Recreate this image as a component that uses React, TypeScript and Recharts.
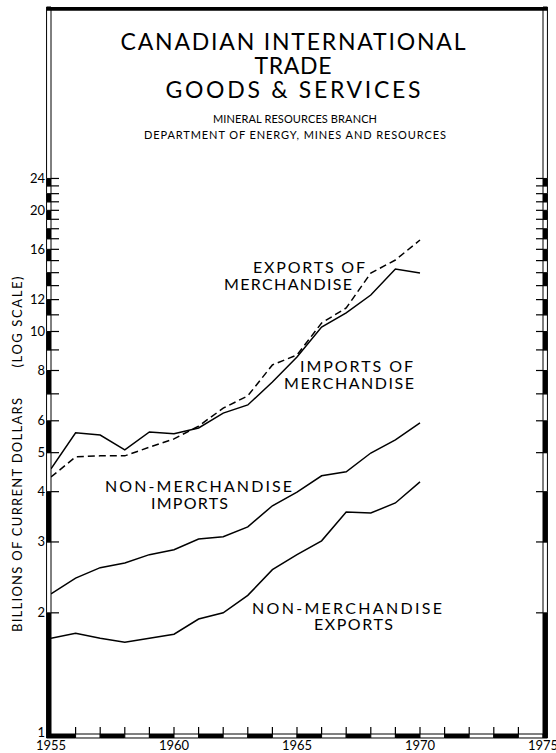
import { LineChart, Line, XAxis, YAxis, ReferenceArea } from 'recharts';

// values, billions of current dollars
const years = [1955, 1956, 1957, 1958, 1959, 1960, 1961, 1962, 1963, 1964, 1965, 1966, 1967, 1968, 1969, 1970];
const merchExports = [4.35, 4.88, 4.91, 4.91, 5.16, 5.41, 5.82, 6.45, 6.92, 8.26, 8.74, 10.5, 11.44, 13.97, 15.05, 16.88];
const merchImports = [4.56, 5.6, 5.53, 5.08, 5.63, 5.57, 5.76, 6.27, 6.57, 7.49, 8.64, 10.26, 11.12, 12.32, 14.3, 13.97];
const nonMerchImports = [2.23, 2.44, 2.59, 2.66, 2.79, 2.87, 3.05, 3.09, 3.27, 3.69, 3.99, 4.38, 4.48, 4.99, 5.38, 5.93];
const nonMerchExports = [1.73, 1.78, 1.73, 1.69, 1.73, 1.77, 1.93, 2.0, 2.21, 2.56, 2.79, 3.02, 3.56, 3.54, 3.75, 4.23];

const yTicks = [1, 2, 3, 4, 5, 6, 7, 8, 9, 10, 11, 12, 13, 14, 15, 16, 17, 18, 19, 20, 21, 22, 23, 24];
const yLabels = [1, 2, 3, 4, 5, 6, 8, 10, 12, 16, 20, 24];
const xTicks = [1955, 1956, 1957, 1958, 1959, 1960, 1961, 1962, 1963, 1964, 1965, 1966, 1967, 1968, 1969, 1970, 1971, 1972, 1973, 1974, 1975];
const xLabels = [1955, 1960, 1965, 1970, 1975];

const data = years.map((yr, i) => ({
  yr,
  mx: merchExports[i],
  mi: merchImports[i],
  nmi: nonMerchImports[i],
  nme: nonMerchExports[i],
}));

const FONT = 'Lato, "DejaVu Sans", sans-serif';
const Y_MIN = 1;
const Y_MAX = 64;
const BAR_LO = 0.9774; // bottom scale bar, ~4px below y=1
const LEFT_X0 = 1954.82;
const RIGHT_X1 = 1975.18;

function LeftTick(props: any) {
  const { y, payload } = props;
  const v = payload.value;
  return (
    <g>
      {v > 1 && <line x1={51} x2={59} y1={y} y2={y} stroke="#000" strokeWidth={1.2} />}
      {yLabels.includes(v) && (
        <text x={45} y={y} dy={v === 1 ? 3 : 4.5} textAnchor="end" fontSize={13} fontFamily={FONT} fill="#000">{v}</text>
      )}
    </g>
  );
}

function RightTick(props: any) {
  const { y, payload } = props;
  if (payload.value <= 1) return null;
  return <line x1={536} x2={543} y1={y} y2={y} stroke="#000" strokeWidth={1.2} />;
}

function BottomTick(props: any) {
  const { x, payload } = props;
  const v = payload.value;
  return (
    <g>
      {v > 1955 && v < 1975 && <line x1={x} x2={x} y1={734} y2={727} stroke="#000" strokeWidth={1.2} />}
      {xLabels.includes(v) && (
        <text x={x} y={750} textAnchor="middle" fontSize={13} fontFamily={FONT} fill="#000">{v}</text>
      )}
    </g>
  );
}

const leftSegs = yTicks.slice(0, -1).map((k) => ({ y1: k, y2: k + 1, black: k % 2 === 1 }));
const bottomSegs = xTicks.slice(0, -1).map((k) => ({ x1: k, x2: k + 1, black: (k - 1955) % 2 === 0 }));

export default function App() {
  return (
    <div style={{ position: 'absolute', left: 0, top: 0, width: 556, height: 753, background: '#fff' }}>
      <LineChart width={556} height={753} data={data} margin={{ top: 7, right: 0, left: 0, bottom: 0 }}>
        <XAxis
          dataKey="yr"
          type="number"
          domain={[1955, 1975]}
          ticks={xTicks}
          allowDataOverflow
          axisLine={false}
          tickLine={false}
          height={19}
          tick={<BottomTick />}
          interval={0}
        />
        <YAxis
          scale="log"
          type="number"
          domain={[Y_MIN, Y_MAX]}
          ticks={yTicks}
          allowDataOverflow
          axisLine={false}
          tickLine={false}
          width={51}
          tick={<LeftTick />}
          interval={0}
        />
        <YAxis
          yAxisId="r"
          orientation="right"
          scale="log"
          type="number"
          domain={[Y_MIN, Y_MAX]}
          ticks={yTicks}
          allowDataOverflow
          axisLine={false}
          tickLine={false}
          width={13}
          tick={<RightTick />}
          interval={0}
        />

        {/* alternating scale bars round the frame */}
        {leftSegs.map((s) => (
          <ReferenceArea key={`l${s.y1}`} x1={LEFT_X0} x2={1955} y1={s.y1} y2={s.y2} ifOverflow="visible"
            fill={s.black ? '#000' : '#fff'} fillOpacity={1} stroke="#000" strokeWidth={1} />
        ))}
        {leftSegs.map((s) => (
          <ReferenceArea key={`r${s.y1}`} x1={1975} x2={RIGHT_X1} y1={s.y1} y2={s.y2} ifOverflow="visible"
            fill={s.black ? '#000' : '#fff'} fillOpacity={1} stroke="#000" strokeWidth={1} />
        ))}
        <ReferenceArea x1={LEFT_X0} x2={1955} y1={24} y2={Y_MAX} ifOverflow="visible" fill="#fff" fillOpacity={1} stroke="#000" strokeWidth={1} />
        <ReferenceArea x1={1975} x2={RIGHT_X1} y1={24} y2={Y_MAX} ifOverflow="visible" fill="#fff" fillOpacity={1} stroke="#000" strokeWidth={1} />
        {bottomSegs.map((s) => (
          <ReferenceArea key={`b${s.x1}`} x1={s.x1} x2={s.x2} y1={BAR_LO} y2={1} ifOverflow="visible"
            fill={s.black ? '#000' : '#fff'} fillOpacity={1} stroke="#000" strokeWidth={1} />
        ))}
        <ReferenceArea x1={LEFT_X0} x2={1955} y1={BAR_LO} y2={1} ifOverflow="visible" fill="#000" fillOpacity={1} stroke="#000" />
        <ReferenceArea x1={1975} x2={RIGHT_X1} y1={BAR_LO} y2={1} ifOverflow="visible" fill="#000" fillOpacity={1} stroke="#000" />
        <ReferenceArea x1={LEFT_X0} x2={RIGHT_X1} y1={62.6} y2={Y_MAX} ifOverflow="visible" fill="#000" fillOpacity={1} stroke="none" />

        <Line dataKey="mx" stroke="#000" strokeWidth={1.5} strokeDasharray="7 4" dot={false} isAnimationActive={false} />
        <Line dataKey="mi" stroke="#000" strokeWidth={1.5} dot={false} isAnimationActive={false} />
        <Line dataKey="nmi" stroke="#000" strokeWidth={1.5} dot={false} isAnimationActive={false} />
        <Line dataKey="nme" stroke="#000" strokeWidth={1.5} dot={false} isAnimationActive={false} />
      </LineChart>

      <svg width={556} height={753} style={{ position: 'absolute', left: 0, top: 0, pointerEvents: 'none' }}>
        <g fontFamily={FONT} fill="#000" textAnchor="middle">
          <text x={293} y={50} fontSize={23} textLength={345} lengthAdjust="spacing">CANADIAN  INTERNATIONAL</text>
          <text x={293} y={74} fontSize={23} textLength={77} lengthAdjust="spacing">TRADE</text>
          <text x={293} y={98} fontSize={23} textLength={255} lengthAdjust="spacing">GOODS &amp; SERVICES</text>
          <text x={295} y={123} fontSize={11} textLength={164} lengthAdjust="spacing">MINERAL RESOURCES BRANCH</text>
          <text x={295} y={139} fontSize={11} textLength={302} lengthAdjust="spacing">DEPARTMENT OF ENERGY, MINES AND RESOURCES</text>
        </g>
        <g fontFamily={FONT} fill="#000" fontSize={16}>
          <text x={253} y={273} textLength={112} lengthAdjust="spacing">EXPORTS OF</text>
          <text x={224} y={290} textLength={128} lengthAdjust="spacing">MERCHANDISE</text>
          <text x={300} y={372} textLength={113} lengthAdjust="spacing">IMPORTS OF</text>
          <text x={284} y={389} textLength={130} lengthAdjust="spacing">MERCHANDISE</text>
          <text x={105} y={492} textLength={187} lengthAdjust="spacing">NON-MERCHANDISE</text>
          <text x={151} y={509} textLength={77} lengthAdjust="spacing">IMPORTS</text>
          <text x={252} y={614} textLength={190} lengthAdjust="spacing">NON-MERCHANDISE</text>
          <text x={314} y={630} textLength={79} lengthAdjust="spacing">EXPORTS</text>
        </g>
        <g fontFamily={FONT} fill="#000" fontSize={13} textAnchor="middle">
          <text x={22} y={515} transform="rotate(-90 22 515)" textLength={234} lengthAdjust="spacing">BILLIONS OF CURRENT DOLLARS</text>
          <text x={22} y={322} transform="rotate(-90 22 322)" textLength={91} lengthAdjust="spacing">(LOG SCALE)</text>
        </g>
      </svg>
    </div>
  );
}
